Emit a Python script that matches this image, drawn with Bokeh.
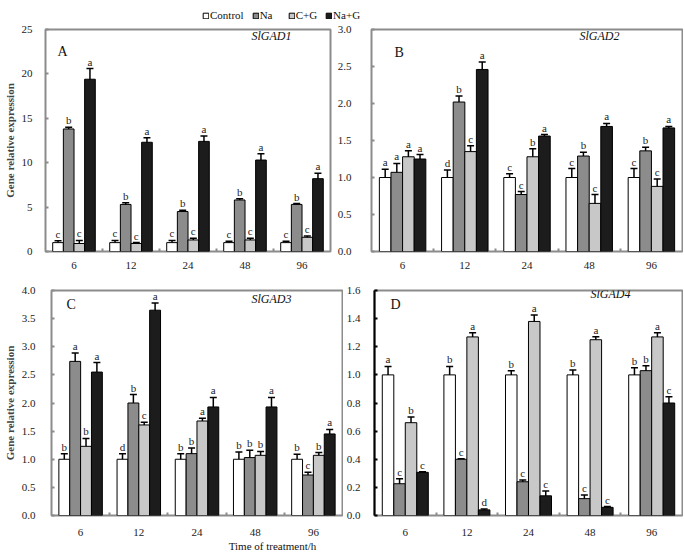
from bokeh.plotting import figure
from bokeh.models import (ColumnDataSource, Whisker, TeeHead, Label, FixedTicker,
                          Legend, LegendItem, PrintfTickFormatter, Range1d)
from bokeh.layouts import column, row
from bokeh.embed import file_html
from bokeh.resources import INLINE
from bokeh.core.properties import value

hours = ["6", "12", "24", "48", "96"]
series = ["Control", "Na", "C+G", "Na+G"]
colors = ["#ffffff", "#8c8c8c", "#c8c8c8", "#1c1c1c"]

# SlGAD1 (panel A)
gad1_means = [[1.0, 1.0, 1.0, 1.0, 1.0],
              [13.8, 5.3, 4.5, 5.8, 5.3],
              [0.9, 0.9, 1.3, 1.3, 1.6],
              [19.4, 12.3, 12.4, 10.3, 8.2]]
gad1_errs = [[0.2, 0.25, 0.25, 0.15, 0.15],
             [0.2, 0.2, 0.15, 0.15, 0.1],
             [0.35, 0.1, 0.2, 0.2, 0.15],
             [1.2, 0.5, 0.6, 0.7, 0.6]]
gad1_letters = [["c"] * 5, ["b"] * 5, ["c"] * 5, ["a"] * 5]

# SlGAD2 (panel B)
gad2_means = [[1.0, 1.0, 1.0, 1.0, 1.0],
              [1.07, 2.02, 0.77, 1.29, 1.36],
              [1.28, 1.35, 1.28, 0.65, 0.88],
              [1.25, 2.46, 1.56, 1.69, 1.67]]
gad2_errs = [[0.11, 0.1, 0.05, 0.12, 0.12],
             [0.12, 0.08, 0.04, 0.05, 0.05],
             [0.08, 0.08, 0.11, 0.12, 0.1],
             [0.06, 0.1, 0.02, 0.04, 0.02]]
gad2_letters = [["a", "d", "c", "c", "c"],
                ["a", "b", "c", "b", "b"],
                ["a", "c", "b", "c", "c"],
                ["a", "a", "a", "a", "a"]]

# SlGAD3 (panel C)
gad3_means = [[1.0, 1.0, 1.0, 1.0, 1.0],
              [2.74, 2.0, 1.10, 1.03, 0.72],
              [1.23, 1.61, 1.68, 1.07, 1.07],
              [2.55, 3.65, 1.93, 1.93, 1.45]]
gad3_errs = [[0.1, 0.1, 0.1, 0.13, 0.09],
             [0.15, 0.15, 0.1, 0.13, 0.05],
             [0.14, 0.05, 0.05, 0.07, 0.05],
             [0.17, 0.13, 0.17, 0.17, 0.08]]
gad3_letters = [["b", "d", "b", "b", "b"],
                ["a", "b", "b", "b", "c"],
                ["b", "c", "a", "b", "b"],
                ["a", "a", "a", "a", "a"]]

# SlGAD4 (panel D)
gad4_means = [[1.0, 1.0, 1.0, 1.0, 1.0],
              [0.226, 0.40, 0.24, 0.12, 1.03],
              [0.66, 1.27, 1.38, 1.25, 1.27],
              [0.307, 0.04, 0.14, 0.058, 0.80]]
gad4_errs = [[0.06, 0.06, 0.03, 0.035, 0.05],
             [0.035, 0.004, 0.012, 0.025, 0.035],
             [0.04, 0.03, 0.045, 0.022, 0.03],
             [0.005, 0.006, 0.035, 0.006, 0.045]]
gad4_letters = [["a", "b", "b", "b", "b"],
                ["c", "c", "c", "c", "b"],
                ["b", "a", "a", "a", "a"],
                ["c", "d", "c", "c", "c"]]

FONT = "Liberation Serif"
FRAME = "#8c8c8c"
BAR_W = 0.187
OFFSETS = [-0.28, -0.093, 0.093, 0.28]


def make_panel(means, errs, letters, ymax, yticks, fmt, width, height,
               bl, br, bt, bb, tag, gene, tag_pos, gene_pos, ylabel,
               y_standoff, x_standoff, dark_axis=False):
    p = figure(width=width, height=height, x_range=Range1d(-0.5, len(hours) - 0.5),
               y_range=Range1d(0, ymax), output_backend="svg", toolbar_location=None,
               min_border_left=bl, min_border_right=br, min_border_top=bt,
               min_border_bottom=bb)
    p.grid.visible = False
    p.outline_line_color = FRAME
    p.outline_line_width = 2
    fw = width - bl - br
    fh = height - bt - bb

    xa = p.xaxis[0]
    xa.ticker = FixedTicker(ticks=list(range(len(hours))),
                            minor_ticks=[i + 0.5 for i in range(len(hours) - 1)])
    xa.major_label_overrides = {i: h for i, h in enumerate(hours)}
    xa.major_tick_line_color = None
    xa.minor_tick_in = 3
    xa.minor_tick_out = 0
    xa.minor_tick_line_color = FRAME
    xa.minor_tick_line_width = 2
    xa.axis_line_color = None
    xa.major_label_text_font = FONT
    xa.major_label_text_font_size = "11px"
    xa.major_label_text_color = "#222222"
    xa.major_label_standoff = x_standoff

    ya = p.yaxis[0]
    ya.ticker = FixedTicker(ticks=yticks)
    ya.formatter = PrintfTickFormatter(format=fmt)
    ya.major_tick_in = 3
    ya.major_tick_out = 0
    ya.minor_tick_line_color = None
    ya.major_label_text_font = FONT
    ya.major_label_text_font_size = "11px"
    ya.major_label_text_color = "#222222"
    ya.major_label_standoff = y_standoff
    if dark_axis:
        ya.axis_line_color = "black"
        ya.axis_line_width = 2
        ya.major_tick_line_color = "black"
        ya.major_tick_line_width = 2
    else:
        ya.axis_line_color = None
        ya.major_tick_line_color = FRAME
        ya.major_tick_line_width = 2
    if ylabel:
        ya.axis_label = "Gene relative expression"
        ya.axis_label_text_font = FONT
        ya.axis_label_text_font_size = "11px"
        ya.axis_label_text_font_style = "bold"
        ya.axis_label_standoff = 3

    for s in range(len(series)):
        m = means[s]
        e = errs[s]
        src = ColumnDataSource(dict(
            x=[i + OFFSETS[s] for i in range(len(hours))],
            top=m,
            upper=[a + b for a, b in zip(m, e)],
            lower=[a - b for a, b in zip(m, e)],
            lab=letters[s]))
        p.vbar(x="x", top="top", bottom=0, width=BAR_W, source=src,
               fill_color=colors[s], line_color="black", line_width=1)
        w = Whisker(base="x", upper="upper", lower="lower", source=src,
                    dimension="height", line_color="black", line_width=1.5,
                    upper_head=TeeHead(size=7, line_width=1.5, line_color="black"),
                    lower_head=TeeHead(size=7, line_width=1.5, line_color="black"))
        p.add_layout(w)
        p.text(x="x", y="upper", text="lab", source=src, text_font=value(FONT),
               text_font_size="11px", text_align="center", text_baseline="bottom",
               y_offset=-1, text_color="#222222")

    p.add_layout(Label(x=tag_pos[0], y=fh - tag_pos[1], x_units="screen",
                       y_units="screen", text=tag, text_font=FONT,
                       text_font_size="14px", text_baseline="middle",
                       text_color="#111111"))
    p.add_layout(Label(x=fw - gene_pos[0], y=fh - gene_pos[1], x_units="screen",
                       y_units="screen", text=gene, text_font=FONT,
                       text_font_size="12px", text_font_style="italic",
                       text_align="right", text_baseline="middle",
                       text_color="#111111"))
    return p


pA = make_panel(gad1_means, gad1_errs, gad1_letters, 25, [0, 5, 10, 15, 20, 25], "%d",
                334, 256, 44, 4, 5, 29, "A", "SlGAD1", (12, 22), (40, 6), True, 13, 4)
pB = make_panel(gad2_means, gad2_errs, gad2_letters, 3.0,
                [0, 0.5, 1.0, 1.5, 2.0, 2.5, 3.0], "%.1f",
                349, 256, 36, 1, 5, 29, "B", "SlGAD2", (23, 23), (64, 6), False, 20, 4)
pC = make_panel(gad3_means, gad3_errs, gad3_letters, 4.0,
                [0, 0.5, 1.0, 1.5, 2.0, 2.5, 3.0, 3.5, 4.0], "%.1f",
                343, 258, 47, 1, 10, 19, "C", "SlGAD3", (15, 18), (55, 12), True, 16, 7)
pD = make_panel(gad4_means, gad4_errs, gad4_letters, 1.6,
                [0, 0.2, 0.4, 0.6, 0.8, 1.0, 1.2, 1.4, 1.6], "%.1f",
                340, 258, 29, 1, 10, 19, "D", "SlGAD4", (16, 18), (54, 7), False, 14, 7,
                dark_axis=True)

# legend strip (swatch renderers sit outside the visible range)
lf = figure(width=683, height=24, x_range=Range1d(0, 1), y_range=Range1d(0, 1),
            output_backend="svg", toolbar_location=None, min_border=0,
            x_axis_location=None, y_axis_location=None)
lf.grid.visible = False
lf.outline_line_color = None
items = []
for s, c in zip(series, colors):
    r = lf.vbar(x=[-5], top=[-5], bottom=[-6], width=0.1, fill_color=c,
                line_color="black", line_width=1)
    items.append(LegendItem(label=s, renderers=[r]))
leg = Legend(items=items, orientation="horizontal", location=(202, 3),
             glyph_width=7, glyph_height=7, label_standoff=1, spacing=8,
             padding=0, margin=0, border_line_color=None, background_fill_alpha=0,
             label_text_font=FONT, label_text_font_size="11px", label_height=12,
             label_text_color="#111111")
lf.add_layout(leg)

# x-axis title strip
xf = figure(width=683, height=18, x_range=Range1d(0, 1), y_range=Range1d(0, 1),
            output_backend="svg", toolbar_location=None, min_border=0,
            x_axis_location=None, y_axis_location=None)
xf.grid.visible = False
xf.outline_line_color = None
xf.add_layout(Label(x=272, y=11, x_units="screen", y_units="screen",
                    text="Time of treatment/h", text_font=FONT, text_font_size="11px",
                    text_align="center", text_baseline="middle", text_color="#111111"))

layout = column(lf, row(pA, pB), row(pC, pD), xf)
open("out.html", "w").write(file_html(layout, INLINE))
